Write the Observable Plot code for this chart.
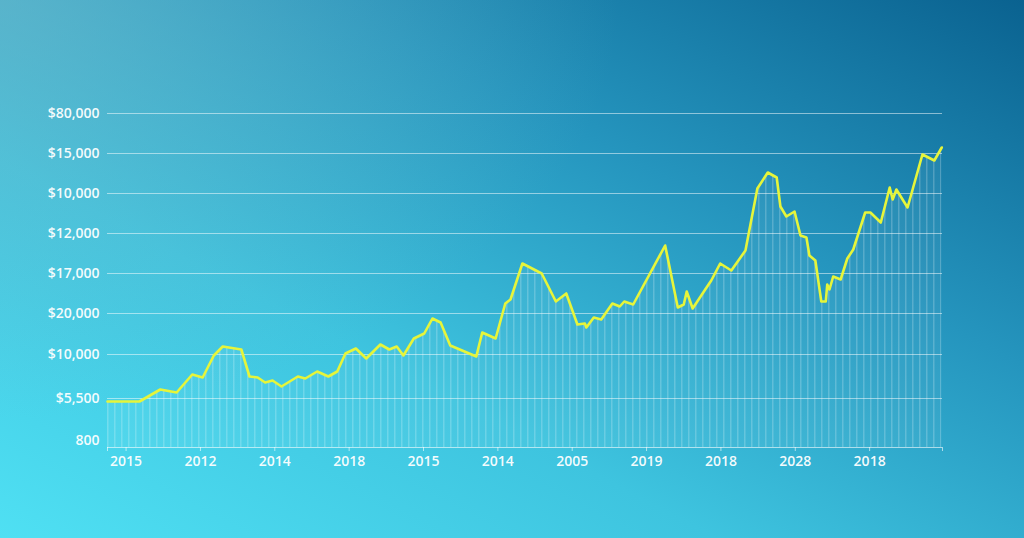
<!DOCTYPE html>
<html>
<head>
<meta charset="utf-8">
<script src="https://cdn.jsdelivr.net/npm/d3@7"></script>
<script src="https://cdn.jsdelivr.net/npm/@observablehq/plot@0.6"></script>
<style>
  html, body { margin: 0; padding: 0; width: 1024px; height: 538px; overflow: hidden; }
  body {
    background:
      radial-gradient(ellipse 620px 420px at 0% 0%, rgba(120,185,200,0.55), rgba(120,185,200,0) 100%),
      linear-gradient(to top right, #4fe0f3 0%, #3ec4df 35%, #2595be 66%, #0a6290 100%);
    font-family: "Open Sans", sans-serif;
  }
  #chart { position: absolute; left: 0; top: 0; }
</style>
</head>
<body>
<div id="chart"></div>
<script>
// ---- data ----
const xTickValues = [0, 10, 20, 30, 40, 50, 60, 70, 80, 90, 100];
const xTickLabels = ["2015", "2012", "2014", "2018", "2015", "2014", "2005", "2019", "2018", "2028", "2018"];
const yTickValues = [-0.175, 0.875, 1.975, 3, 4, 5, 6, 7, 8];
const yTickLabels = ["800", "$5,500", "$10,000", "$20,000", "$17,000", "$12,000", "$10,000", "$15,000", "$80,000"];
const xDomain = [-2.5, 109.8];
const yDomain = [-0.35, 8];

const seriesX = [
  -2.5, 1.8, 4.6, 6.8, 8.9, 10.3, 11.8, 13.0, 15.5, 16.6, 17.7, 18.7, 19.7, 20.9,
  23.1, 24.1, 25.7, 27.2, 28.4, 29.5, 30.9, 32.3, 34.2, 35.4, 36.4, 37.3, 38.7,
  40.1, 41.2, 42.3, 43.6, 47.1, 47.9, 49.7, 51.0, 51.7, 53.3, 55.9, 57.8, 59.2,
  60.7, 61.7, 61.9, 62.9, 63.9, 65.4, 66.4, 67.0, 68.2, 72.5, 74.2, 75.0, 75.4,
  76.2, 77.8, 78.7, 79.9, 81.4, 83.3, 84.9, 86.3, 87.5, 88.0, 88.8, 89.9, 90.7,
  91.5, 91.9, 92.7, 93.5, 94.1, 94.3, 94.6, 95.1, 96.1, 97.0, 97.8, 99.4, 100.1,
  101.5, 102.7, 103.1, 103.6, 105.1, 107.1, 108.7, 109.7
];
const seriesY = [
  0.80, 0.80, 1.10, 1.025, 1.475, 1.40, 1.95, 2.175, 2.10, 1.425, 1.40, 1.275, 1.325, 1.175,
  1.425, 1.375, 1.55, 1.425, 1.55, 2.00, 2.125, 1.875, 2.225, 2.10, 2.175, 1.95, 2.375,
  2.50, 2.875, 2.775, 2.20, 1.925, 2.525, 2.375, 3.25, 3.35, 4.25, 4.00, 3.30, 3.50,
  2.725, 2.75, 2.65, 2.90, 2.85, 3.25, 3.175, 3.30, 3.225, 4.70, 3.15, 3.225, 3.55,
  3.125, 3.575, 3.825, 4.25, 4.075, 4.575, 6.125, 6.525, 6.40, 5.675, 5.425, 5.55, 4.95,
  4.90, 4.45, 4.325, 3.30, 3.30, 3.725, 3.60, 3.925, 3.85, 4.375, 4.60, 5.525, 5.525,
  5.275, 6.15, 5.85, 6.10, 5.65, 6.975, 6.825, 7.15
];

const data = seriesX.map((x, i) => ({x, y: seriesY[i]}));
const xLabelMap = new Map(xTickValues.map((v, i) => [v, xTickLabels[i]]));
const yLabelMap = new Map(yTickValues.map((v, i) => [v, yTickLabels[i]]));
const base = yDomain[0];

const svg = Plot.plot({
  width: 1024,
  height: 538,
  marginLeft: 107,
  marginRight: 82,
  marginTop: 113,
  marginBottom: 91,
  style: {background: "transparent", fontFamily: "'Open Sans', sans-serif", overflow: "visible"},
  x: {domain: xDomain},
  y: {domain: yDomain},
  marks: [
    Plot.gridY(yTickValues.slice(1), {stroke: "#ffffff", strokeOpacity: 0.5, strokeWidth: 1}),
    Plot.areaY(data, {x: "x", y1: () => base, y2: "y", fill: "url(#stripes)"}),
    Plot.areaY(data, {x: "x", y1: () => base, y2: "y", fill: "#ffffff", fillOpacity: 0.05}),
    Plot.ruleY([base], {stroke: "#ffffff", strokeOpacity: 0.6, strokeWidth: 1}),
    Plot.axisX(xTickValues, {
      tickFormat: d => xLabelMap.get(d), tickSize: 4, tickPadding: 5,
      stroke: "#ffffff", strokeOpacity: 0.6, fill: "#ffffff", fillOpacity: 0.95,
      fontSize: 14, fontWeight: 600, label: null
    }),
    Plot.axisX(xDomain, {
      tickFormat: () => "", tickSize: 4, stroke: "#ffffff", strokeOpacity: 0.6, label: null
    }),
    Plot.axisY(yTickValues, {
      tickFormat: d => yLabelMap.get(d), tickSize: 0, tickPadding: 8,
      fill: "#ffffff", fillOpacity: 0.95, fontSize: 14, fontWeight: 600, label: null
    }),
    Plot.line(data, {
      x: "x", y: "y", stroke: "#e6f53a", strokeWidth: 2.6,
      strokeLinejoin: "round", strokeLinecap: "round"
    })
  ]
});

// stripe pattern for the area under the line
const defs = d3.select(svg).insert("defs", ":first-child");
const pat = defs.append("pattern")
  .attr("id", "stripes")
  .attr("patternUnits", "userSpaceOnUse")
  .attr("width", 7)
  .attr("height", 10);
pat.append("rect").attr("x", 2).attr("y", 0).attr("width", 1.5).attr("height", 10)
  .attr("fill", "#ffffff").attr("fill-opacity", 0.2);

document.getElementById("chart").appendChild(svg);
</script>
</body>
</html>
